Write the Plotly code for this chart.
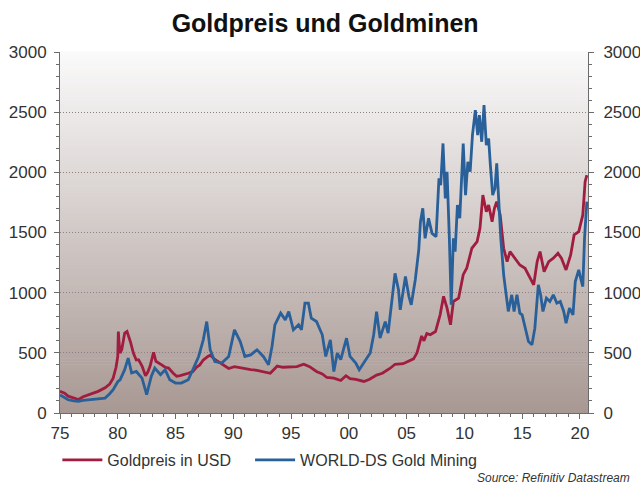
import plotly.graph_objects as go

# ---- data ----
gold_years = [1975.0, 1975.4, 1975.7, 1976.2, 1976.6, 1977.0, 1977.7, 1978.3, 1978.9, 1979.3,
              1979.6, 1979.85, 1980.0, 1980.05, 1980.1, 1980.2, 1980.35, 1980.6, 1980.8, 1980.95,
              1981.1, 1981.35, 1981.6, 1981.8, 1982.1, 1982.4, 1982.6, 1982.8, 1983.1, 1983.3,
              1983.5, 1983.8, 1984.1, 1984.4, 1984.8, 1985.1, 1985.4, 1985.8, 1986.1, 1986.5,
              1986.8, 1987.1, 1987.4, 1987.8, 1988.0, 1988.4, 1988.8, 1989.3, 1989.6, 1990.1,
              1990.6, 1991.0, 1991.5, 1992.05, 1992.6, 1993.2, 1993.6, 1993.8, 1994.3, 1995.0,
              1995.5, 1996.1, 1996.6, 1997.2, 1997.7, 1998.1, 1998.7, 1999.3, 1999.75, 2000.1,
              2000.6, 2001.3, 2001.8, 2002.4, 2002.9, 2003.55, 2004.0, 2004.7, 2005.2, 2005.6,
              2005.9, 2006.3, 2006.5, 2006.75, 2007.05, 2007.5, 2007.9, 2008.2, 2008.5, 2008.8,
              2009.05, 2009.5, 2009.9, 2010.2, 2010.65, 2011.1, 2011.35, 2011.6, 2011.9, 2012.1,
              2012.4, 2012.6, 2012.8, 2013.1, 2013.4, 2013.7, 2013.95, 2014.4, 2014.8, 2015.25,
              2015.7, 2016.0, 2016.3, 2016.55, 2016.9, 2017.3, 2017.7, 2018.1, 2018.4, 2018.8,
              2019.2, 2019.5, 2019.9, 2020.25, 2020.45, 2020.6]
gold_usd = [180, 165, 140, 128, 112, 135, 160, 180, 210, 240,
            290, 380, 470, 677, 600, 498, 530, 664, 677, 640,
            590, 498, 440, 443, 390, 310, 340, 390, 505, 430,
            420, 400, 380, 373, 330, 305, 310, 320, 330, 345,
            380, 400, 440, 470, 480, 445, 420, 395, 370, 385,
            375, 365, 360, 355, 345, 330, 370, 390, 380, 380,
            385, 405, 385, 345, 325, 295, 290, 270, 310, 285,
            280, 262, 280, 315, 330, 370, 405, 410, 430, 450,
            500, 640, 600, 660, 650, 677, 816, 970, 871, 733,
            927, 954, 1150, 1203, 1369, 1424, 1535, 1811, 1673, 1728,
            1590, 1701, 1756, 1646, 1369, 1258, 1341, 1286, 1230, 1203,
            1120, 1065, 1258, 1341, 1175, 1258, 1286, 1327, 1286, 1189,
            1313, 1480, 1507, 1646, 1922, 1977]

mining_years = [1975.0, 1975.4, 1975.7, 1976.2, 1976.6, 1977.0, 1977.7, 1978.3, 1978.9, 1979.3,
                1979.6, 1980.0, 1980.2, 1980.6, 1980.9, 1981.2, 1981.6, 1982.1, 1982.5, 1982.9,
                1983.2, 1983.7, 1984.1, 1984.5, 1985.0, 1985.5, 1986.1, 1986.5, 1987.0, 1987.4,
                1987.7, 1988.0, 1988.4, 1989.0, 1989.6, 1990.1, 1990.6, 1991.0, 1991.5, 1992.05,
                1992.6, 1993.05, 1993.35, 1993.6, 1994.1, 1994.5, 1994.8, 1995.2, 1995.65, 1995.9,
                1996.2, 1996.5, 1996.75, 1997.2, 1997.7, 1998.0, 1998.4, 1998.7, 1999.0, 1999.3,
                1999.8, 2000.1, 2000.6, 2000.9, 2001.4, 2001.85, 2002.15, 2002.4, 2002.7, 2003.15,
                2003.4, 2003.8, 2004.0, 2004.3, 2004.45, 2004.9, 2005.2, 2005.4, 2005.75, 2006.05,
                2006.2, 2006.4, 2006.6, 2006.9, 2007.2, 2007.55, 2007.8, 2007.95, 2008.15, 2008.35,
                2008.5, 2008.7, 2008.86, 2009.05, 2009.2, 2009.4, 2009.6, 2009.9, 2010.1, 2010.3,
                2010.5, 2010.7, 2010.95, 2011.15, 2011.3, 2011.5, 2011.7, 2011.9, 2012.1, 2012.25,
                2012.45, 2012.65, 2012.8, 2012.95, 2013.15, 2013.4, 2013.6, 2013.8, 2014.1, 2014.3,
                2014.55, 2014.8, 2015.0, 2015.25, 2015.55, 2015.85, 2016.1, 2016.4, 2016.6, 2016.8,
                2017.1, 2017.4, 2017.7, 2018.0, 2018.3, 2018.6, 2018.8, 2019.1, 2019.4, 2019.6,
                2019.9, 2020.1, 2020.25, 2020.4, 2020.6]
mining_index = [150, 130, 110, 100, 96, 105, 110, 115, 124, 160,
                193, 260, 276, 360, 456, 332, 345, 290, 152, 304,
                373, 318, 360, 276, 249, 249, 276, 360, 470, 608,
                760, 525, 428, 415, 470, 691, 594, 470, 483, 525,
                470, 401, 553, 733, 830, 774, 843, 692, 733, 692,
                913, 913, 788, 760, 650, 470, 608, 345, 498, 443,
                622, 470, 415, 360, 428, 498, 650, 843, 622, 760,
                664, 1023, 1161, 1023, 857, 1134, 968, 899, 1106, 1354,
                1590, 1701, 1452, 1618, 1493, 1466, 1950, 1894, 2240, 1784,
                2005, 1452, 899, 1452, 1341, 1728, 1618, 2240, 1811, 2088,
                2005, 2309, 2516, 2309, 2475, 2254, 2558, 2226, 2281, 2060,
                1811, 1867, 2074, 1811, 1452, 1148, 982, 844, 982, 844,
                982, 830, 816, 705, 594, 567, 705, 1065, 982, 844,
                954, 927, 982, 913, 927, 844, 747, 871, 816, 1093,
                1189, 1106, 1051, 1452, 1756]

x_tickvals = [1975, 1980, 1985, 1990, 1995, 2000, 2005, 2010, 2015, 2020]
x_ticktext = ["75", "80", "85", "90", "95", "00", "05", "10", "15", "20"]
y_tickvals = [0, 500, 1000, 1500, 2000, 2500, 3000]

title_text = "Goldpreis und Goldminen"
gold_name = "Goldpreis in USD"
mining_name = "WORLD-DS Gold Mining"
source_text = "Source: Refinitiv Datastream"

# ---- styles ----
FONT = "Liberation Sans, Arial, sans-serif"
RED = "#a11d3f"
BLUE = "#2a6099"
AXIS = "#6b6b6b"
TXT = "#333333"

fig = go.Figure()
fig.add_trace(go.Scatter(x=gold_years, y=gold_usd, mode="lines", name=gold_name,
                         line=dict(color=RED, width=2.8), yaxis="y", legend="legend"))
fig.add_trace(go.Scatter(x=mining_years, y=mining_index, mode="lines", name=mining_name,
                         line=dict(color=BLUE, width=2.8), yaxis="y2", legend="legend2"))

# gradient background of the plot area
shapes = []
n = 120
top = (250, 250, 250)
bot = (168, 152, 147)
for i in range(n):
    t = (i + 0.5) / n  # 0 at bottom, 1 at top
    c = tuple(round(bot[k] + (top[k] - bot[k]) * t) for k in range(3))
    shapes.append(dict(type="rect", xref="paper", yref="paper",
                       x0=0, x1=1, y0=i / n, y1=(i + 1) / n + 0.002,
                       fillcolor="rgb(%d,%d,%d)" % c, line=dict(width=0), layer="below"))

yaxis_common = dict(range=[0, 3000], tickvals=y_tickvals, ticks="outside", ticklen=5,
                    tickcolor=AXIS, showline=True, linecolor=AXIS, linewidth=1,
                    tickfont=dict(family=FONT, size=17, color=TXT), zeroline=False,
                    minor=dict(dtick=100, ticks="outside", ticklen=3, tickcolor=AXIS, showgrid=False),
                    fixedrange=True, automargin=False)

legend_common = dict(orientation="h", y=-0.13, yanchor="middle", xanchor="left",
                     font=dict(family=FONT, size=16, color=TXT), bgcolor="rgba(0,0,0,0)",
                     itemwidth=40)

fig.update_layout(
    width=640, height=484,
    margin=dict(l=60, r=52, t=52, b=71, autoexpand=False),
    paper_bgcolor="white",
    plot_bgcolor="rgba(0,0,0,0)",
    shapes=shapes,
    title=dict(text="<b>" + title_text + "</b>", x=0.508, xanchor="center", y=0.952,
               yanchor="middle", font=dict(family=FONT, size=25, color="#111111")),
    xaxis=dict(range=[1975, 2020.7], tickvals=x_tickvals, ticktext=x_ticktext,
               ticks="outside", ticklen=5, tickcolor=AXIS, showline=True, linecolor=AXIS,
               linewidth=1, showgrid=False, zeroline=False, automargin=False,
               tickfont=dict(family=FONT, size=17, color=TXT),
               minor=dict(dtick=1, ticks="outside", ticklen=3, tickcolor=AXIS)),
    yaxis=dict(side="left", showgrid=True, gridcolor="#8c8282", griddash="1px,2px", gridwidth=1,
               ticklabelstandoff=4, **yaxis_common),
    yaxis2=dict(side="right", overlaying="y", showgrid=False, ticklabelstandoff=6, **yaxis_common),
    legend=dict(x=-0.005, **legend_common),
    legend2=dict(x=0.36, **legend_common),
    annotations=[dict(text="<i>" + source_text + "</i>", xref="paper", yref="paper",
                      x=1.083, y=-0.179, xanchor="right", yanchor="middle", showarrow=False,
                      font=dict(family=FONT, size=12, color=TXT))],
    showlegend=True,
)

fig.write_html("out.html")
